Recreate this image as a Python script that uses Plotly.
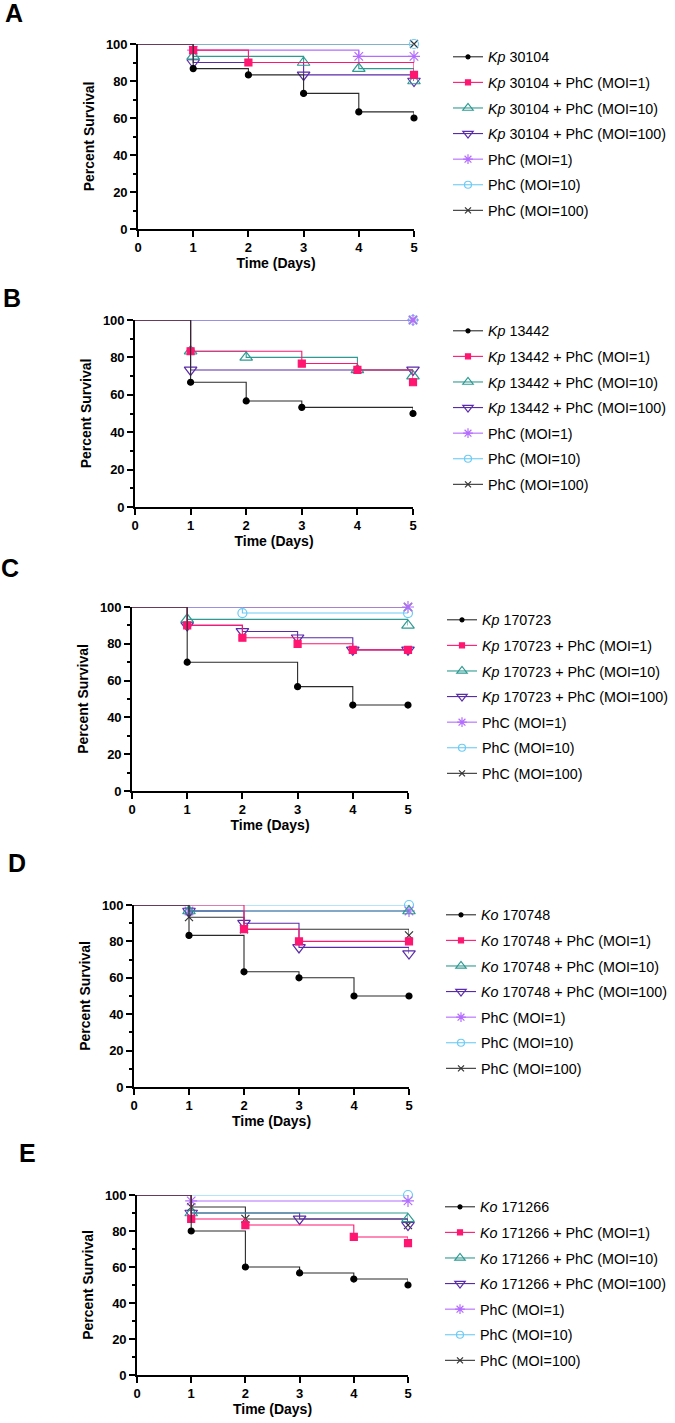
import plotly.graph_objects as go

W, H = 675, 1423
DAYS = [0, 1, 2, 3, 4, 5]

PANEL_LETTERS = ["A", "B", "C", "D", "E"]
STRAINS = ["<i>Kp</i> 30104", "<i>Kp</i> 13442", "<i>Kp</i> 170723",
           "<i>Ko</i> 170748", "<i>Ko</i> 171266"]
COMBO_SUFFIX = ["", " + PhC (MOI=1)", " + PhC (MOI=10)", " + PhC (MOI=100)"]
PHAGE_ONLY = ["PhC (MOI=1)", "PhC (MOI=10)", "PhC (MOI=100)"]

# Percent survival at days 1..5 (day 0 = 100) ; order: strain, +MOI1, +MOI10, +MOI100, PhC1, PhC10, PhC100
A_strain = [86.7, 83.3, 73.3, 63.3, 60.0]
A_moi1 = [96.7, 90.0, 90.0, 90.0, 83.3]
A_moi10 = [93.3, 93.3, 90.0, 86.7, 80.0]
A_moi100 = [90.0, 90.0, 83.3, 83.3, 80.0]
A_phc1 = [96.7, 96.7, 96.7, 93.3, 93.3]
A_phc10 = [100, 100, 100, 100, 100]
A_phc100 = [100, 100, 100, 100, 100]

B_strain = [66.7, 56.7, 53.3, 53.3, 50.0]
B_moi1 = [83.3, 83.3, 76.7, 73.3, 66.7]
B_moi10 = [83.3, 80.0, 80.0, 73.3, 70.0]
B_moi100 = [73.3, 73.3, 73.3, 73.3, 73.3]
B_phc1 = [100, 100, 100, 100, 100]
B_phc10 = [100, 100, 100, 100, 100]
B_phc100 = [100, 100, 100, 100, 100]

C_strain = [70.0, 70.0, 56.7, 46.7, 46.7]
C_moi1 = [90.0, 83.3, 80.0, 76.7, 76.7]
C_moi10 = [93.3, 93.3, 93.3, 93.3, 90.0]
C_moi100 = [90.0, 86.7, 83.3, 76.7, 76.7]
C_phc1 = [100, 100, 100, 100, 100]
C_phc10 = [100, 96.7, 96.7, 96.7, 96.7]
C_phc100 = [100, 100, 100, 100, 100]

D_strain = [83.3, 63.3, 60.0, 50.0, 50.0]
D_moi1 = [100, 86.7, 80.0, 80.0, 80.0]
D_moi10 = [96.7, 96.7, 96.7, 96.7, 96.7]
D_moi100 = [96.7, 90.0, 76.7, 76.7, 73.3]
D_phc1 = [96.7, 96.7, 96.7, 96.7, 96.7]
D_phc10 = [100, 100, 100, 100, 100]
D_phc100 = [93.3, 86.7, 86.7, 86.7, 83.3]

E_strain = [80.0, 60.0, 56.7, 53.3, 50.0]
E_moi1 = [86.7, 83.3, 83.3, 76.7, 73.3]
E_moi10 = [90.0, 90.0, 90.0, 90.0, 86.7]
E_moi100 = [90.0, 90.0, 86.7, 86.7, 83.3]
E_phc1 = [96.7, 96.7, 96.7, 96.7, 96.7]
E_phc10 = [100, 100, 100, 100, 100]
E_phc100 = [93.3, 86.7, 86.7, 86.7, 83.3]

PANELS = [
    [A_strain, A_moi1, A_moi10, A_moi100, A_phc1, A_phc10, A_phc100],
    [B_strain, B_moi1, B_moi10, B_moi100, B_phc1, B_phc10, B_phc100],
    [C_strain, C_moi1, C_moi10, C_moi100, C_phc1, C_phc10, C_phc100],
    [D_strain, D_moi1, D_moi10, D_moi100, D_phc1, D_phc10, D_phc100],
    [E_strain, E_moi1, E_moi10, E_moi100, E_phc1, E_phc10, E_phc100],
]

Y_TICKS = [0, 20, 40, 60, 80, 100]
X_TICKS = [0, 1, 2, 3, 4, 5]

# styles
COLORS = ["#000000", "#FF1670", "#2E9A92", "#5A2BA8", "#B46CFF", "#6CCBF5", "#333333"]
LINE_COLORS = ["#2a2a2a", "#FF1670", "#2E9A92", "#5A2BA8", "#B46CFF", "#6CCBF5", "#333333"]
SYMBOLS = ["circle", "square", "triangle-up-open", "triangle-down-open",
           "asterisk-open", "circle-open", "x-thin-open"]
SIZES = [6, 7, 11, 11, 10, 9, 8]

# panel pixel geometry: x0px, x5px, y100px, y0px
GEOM = [(138, 414, 44, 229), (135, 413, 320, 507), (132, 408, 607, 791),
        (134, 409, 905, 1087), (137, 408, 1195, 1375)]
LEGEND_X = [448, 448, 442, 441, 440]
LEGEND_TOP = [41, 315, 604, 899, 1191]
LETTER_POS = [(14, 13), (12, 298), (10, 568), (17, 863), (27, 1153)]

FONT = "Liberation Sans, Arial, sans-serif"

fig = go.Figure()
layout = dict(width=W, height=H, margin=dict(l=0, r=0, t=0, b=0, autoexpand=False),
              paper_bgcolor="white", plot_bgcolor="white", showlegend=True,
              font=dict(family=FONT, color="black"))
annotations = []

for p, series in enumerate(PANELS):
    k = p + 1
    xa = "x" if k == 1 else f"x{k}"
    ya = "y" if k == 1 else f"y{k}"
    lg = "legend" if k == 1 else f"legend{k}"
    names = [STRAINS[p] + s for s in COMBO_SUFFIX] + PHAGE_ONLY
    x0, x5, y100, y0 = GEOM[p]
    layout[f"xaxis{'' if k == 1 else k}"] = dict(
        domain=[x0 / W, x5 / W], range=[0, 5], anchor=ya,
        tickvals=X_TICKS, showline=True, linecolor="black", linewidth=1.6,
        ticks="outside", ticklen=6, tickwidth=1.6, tickcolor="black",
        showgrid=False, zeroline=False, fixedrange=True,
        tickfont=dict(family=FONT, size=13, color="black", weight="bold"),
        title=dict(text="Time (Days)", standoff=4,
                   font=dict(family=FONT, size=14, color="black", weight="bold")))
    layout[f"yaxis{'' if k == 1 else k}"] = dict(
        domain=[1 - y0 / H, 1 - y100 / H], range=[0, 100], anchor=xa,
        tickvals=Y_TICKS, showline=True, linecolor="black", linewidth=1.6,
        ticks="outside", ticklen=6, tickwidth=1.6, tickcolor="black",
        minor=dict(dtick=10, ticks="outside", ticklen=3, tickwidth=1.6, tickcolor="black"),
        showgrid=False, zeroline=False, fixedrange=True,
        tickfont=dict(family=FONT, size=13, color="black", weight="bold"),
        title=dict(text="Percent Survival", standoff=8,
                   font=dict(family=FONT, size=14, color="black", weight="bold")))
    layout[lg] = dict(x=LEGEND_X[p] / W, y=1 - LEGEND_TOP[p] / H, xanchor="left", yanchor="top",
                      xref="container", yref="container",
                      bgcolor="rgba(0,0,0,0)", font=dict(family=FONT, size=14.3, color="black"),
                      tracegroupgap=4, itemwidth=30)
    lx, ly = LETTER_POS[p]
    annotations.append(dict(text=PANEL_LETTERS[p], x=lx / W, y=1 - ly / H, xref="paper",
                            yref="paper", showarrow=False, xanchor="center", yanchor="middle",
                            font=dict(family=FONT, size=25, color="black", weight="bold")))

    # draw in reverse order so the first series lies on top
    for i in reversed(range(7)):
        vals = [100] + list(series[i])
        # Kaplan-Meier step line
        fig.add_trace(go.Scatter(x=DAYS, y=vals, mode="lines", line_shape="hv",
                                 line=dict(color=LINE_COLORS[i], width=1.1),
                                 xaxis=xa, yaxis=ya, showlegend=False, hoverinfo="skip",
                                 cliponaxis=False))
        # symbols at each drop and at the end of follow-up
        mx, my = [], []
        for d in range(1, 6):
            if vals[d] != vals[d - 1] or d == 5:
                mx.append(DAYS[d])
                my.append(vals[d])
        fig.add_trace(go.Scatter(x=mx, y=my, mode="markers",
                                 marker=dict(symbol=SYMBOLS[i], size=SIZES[i], color=COLORS[i],
                                             line=dict(color=COLORS[i], width=1.2)),
                                 xaxis=xa, yaxis=ya, showlegend=False, cliponaxis=False))
        # legend entry
        fig.add_trace(go.Scatter(x=[None], y=[None], mode="lines+markers", name=names[i],
                                 line=dict(color=LINE_COLORS[i], width=1.1),
                                 marker=dict(symbol=SYMBOLS[i], size=SIZES[i] - 2, color=COLORS[i],
                                             line=dict(color=COLORS[i], width=1.2)),
                                 xaxis=xa, yaxis=ya, legend=lg, legendgroup=f"p{k}s{i}",
                                 legendrank=i + 1, showlegend=True))

layout["annotations"] = annotations
fig.update_layout(**layout)
fig.write_html("out.html", config={"displayModeBar": False},
               post_script="document.body.style.margin='0';document.body.style.overflow='hidden';")
